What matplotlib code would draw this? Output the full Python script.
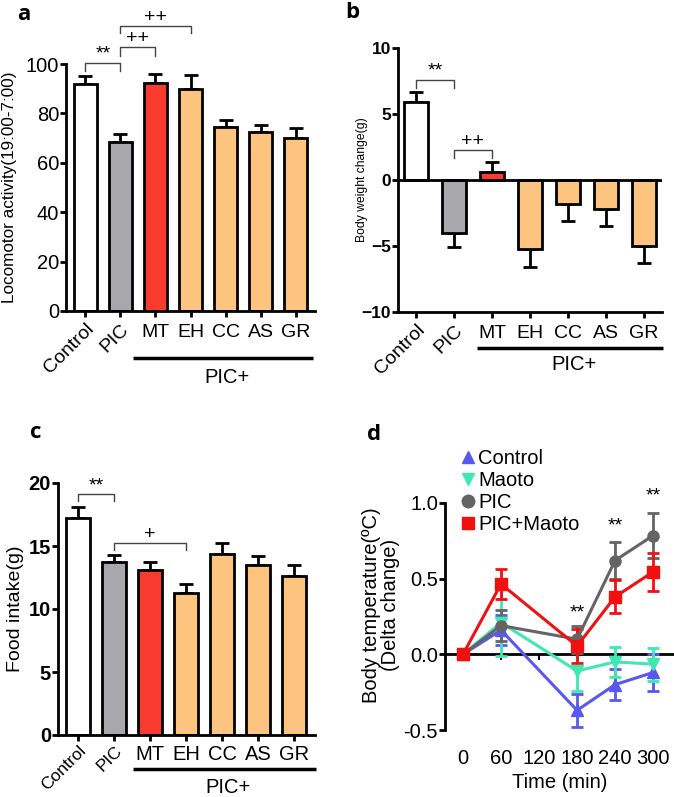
import matplotlib
matplotlib.use("Agg")
import matplotlib.pyplot as plt
from matplotlib.lines import Line2D
import numpy as np

plt.rcParams['font.family'] = ['Liberation Sans', 'DejaVu Sans']

# ---------------- data ----------------
groups = ["Control", "PIC", "MT", "EH", "CC", "AS", "GR"]
bar_colors = ["#ffffff", "#a7a7ac", "#fb3a2f", "#fdc47f", "#fdc47f", "#fdc47f", "#fdc47f"]

loco_mean = [92, 68.5, 92.5, 90, 74.5, 72.5, 70]
loco_err = [3, 3, 3.5, 5.5, 3, 3, 4]

bw_mean = [5.9, -4.0, 0.6, -5.2, -1.8, -2.2, -5.0]
bw_err = [0.8, 1.1, 0.8, 1.4, 1.3, 1.3, 1.3]

food_mean = [17.2, 13.7, 13.1, 11.3, 14.4, 13.5, 12.6]
food_err = [0.9, 0.6, 0.6, 0.7, 0.8, 0.7, 0.9]

time_min = [0, 60, 180, 240, 300]
temp_series = ["Control", "Maoto", "PIC", "PIC+Maoto"]
temp_control = [0.0, 0.16, -0.37, -0.20, -0.12]
temp_control_err = [0.02, 0.10, 0.11, 0.10, 0.12]
temp_maoto = [0.0, 0.21, -0.11, -0.05, -0.065]
temp_maoto_err = [0.02, 0.22, 0.13, 0.10, 0.11]
temp_pic = [0.0, 0.19, 0.10, 0.62, 0.785]
temp_pic_err = [0.02, 0.10, 0.09, 0.12, 0.15]
temp_picm = [0.0, 0.465, 0.055, 0.38, 0.545]
temp_picm_err = [0.02, 0.10, 0.11, 0.11, 0.125]
time_ticks = [0, 60, 120, 180, 240, 300]

W, H = 674, 797
fig = plt.figure(figsize=(6.74, 7.97), dpi=100)


def ax_px(left, top, right, bottom):
    return fig.add_axes([left / W, 1 - bottom / H, (right - left) / W, (bottom - top) / H])


def bar_panel(ax, mean, err, tick_bold, tick_size, cat_size=14, cat_pad=3):
    x = np.arange(len(groups))
    lo = [e if m < 0 else 0 for m, e in zip(mean, err)]
    hi = [e if m >= 0 else 0 for m, e in zip(mean, err)]
    ax.bar(x, mean, width=0.65, color=bar_colors, edgecolor="black", linewidth=2, zorder=2)
    ax.errorbar(x, mean, yerr=[lo, hi], fmt="none", ecolor="black", elinewidth=2,
                capsize=5, capthick=2, zorder=1)
    for s in ["top", "right"]:
        ax.spines[s].set_visible(False)
    for s in ["left", "bottom"]:
        ax.spines[s].set_linewidth(2)
    ax.set_xticks(x)
    ax.set_xticklabels(["Control", "PIC", "", "", "", "", ""], rotation=45, ha="right",
                       rotation_mode="anchor", fontsize=cat_size)
    ax.tick_params(axis="x", length=4, width=2, pad=cat_pad)
    ax.tick_params(axis="y", length=4, width=2, labelsize=tick_size, pad=1)
    if tick_bold:
        for t in ax.get_yticklabels():
            t.set_fontweight("bold")


def group_labels(ax, ylab, yline, ypic, xl0, xl1, fs=14):
    tr = ax.get_xaxis_transform()
    for i, g in enumerate(groups[2:], start=2):
        ax.text(i, ylab, g, transform=tr, ha="center", va="center", fontsize=fs, clip_on=False)
    ax.plot([xl0, xl1], [yline, yline], transform=tr, color="black", lw=2.5, clip_on=False,
            solid_capstyle="butt")
    ax.text((xl0 + xl1) / 2 + 0.1, ypic, "PIC+", transform=tr, ha="center", va="center",
            fontsize=14.5, clip_on=False)


def bracket(ax, x1, x2, ytop, yleg, text, fs=14):
    ax.plot([x1, x1, x2, x2], [yleg, ytop, ytop, yleg], color="#444444", lw=1, clip_on=False)
    ax.text((x1 + x2) / 2, ytop, text, ha="center", va="bottom", fontsize=fs, clip_on=False)


# ---------------- panel a ----------------
axa = ax_px(66, 64, 315, 311)
bar_panel(axa, loco_mean, loco_err, False, 14.5)
axa.set_ylim(0, 100)
axa.set_yticks([0, 20, 40, 60, 80, 100])
axa.set_xlim(-0.55, 6.55)
axa.text(-0.225, 0.5, "Locomotor activity(19:00-7:00)", transform=axa.transAxes, rotation=90,
         ha="center", va="center", fontsize=12.3)
group_labels(axa, -0.089, -0.19, -0.27, 1.37, 6.49)
bracket(axa, 0, 1, 100.5, 97.2, "**")
bracket(axa, 1, 2, 106.8, 103.3, "++")
bracket(axa, 1, 3, 115.5, 112.5, "++")

# ---------------- panel b ----------------
axb = ax_px(398, 48, 662, 312)
bar_panel(axb, bw_mean, bw_err, True, 12.5)
axb.set_ylim(-10, 10)
axb.set_yticks([-10, -5, 0, 5, 10])
axb.set_xlim(-0.47, 6.47)
axb.axhline(0, color="black", lw=2, zorder=3)
axb.text(-0.136, 0.5, "Body weight change(g)", transform=axb.transAxes, rotation=90,
         ha="center", va="center", fontsize=8.7)
group_labels(axb, -0.08, -0.136, -0.2, 1.6, 6.5)
bracket(axb, 0, 1, 7.6, 7.0, "**")
bracket(axb, 1, 2, 2.25, 1.65, "++")

# ---------------- panel c ----------------
axc = ax_px(58, 483, 315, 735)
bar_panel(axc, food_mean, food_err, True, 14.5, cat_size=12.5, cat_pad=1.5)
axc.set_ylim(0, 20)
axc.set_yticks([0, 5, 10, 15, 20])
axc.set_xlim(-0.56, 6.58)
axc.text(-0.167, 0.5, "Food intake(g)", transform=axc.transAxes, rotation=90,
         ha="center", va="center", fontsize=14)
group_labels(axc, -0.079, -0.135, -0.21, 1.53, 6.6, fs=14.5)
bracket(axc, 0, 1, 19.1, 18.6, "**")
bracket(axc, 1, 3, 15.2, 14.7, "+")

# ---------------- panel d ----------------
axd = ax_px(445, 503, 674, 730)
specs = [
    (temp_control, temp_control_err, "#5858f0", "^", "Control"),
    (temp_maoto, temp_maoto_err, "#3fe8b2", "v", "Maoto"),
    (temp_pic, temp_pic_err, "#646464", "o", "PIC"),
    (temp_picm, temp_picm_err, "#f01010", "s", "PIC+Maoto"),
]
handles = []
for vals, errs, col, mk, lab in specs:
    axd.errorbar(time_min, vals, yerr=errs, color=col, marker=mk, markersize=8, lw=2.2,
                 elinewidth=2, capsize=4, capthick=2, clip_on=False)
    handles.append(Line2D([], [], color=col, marker=mk, markersize=9, linestyle="none"))
axd.set_ylim(-0.5, 1.0)
axd.set_yticks([-0.5, 0.0, 0.5, 1.0])
axd.set_yticklabels(["-0.5", "0.0", "0.5", "1.0"])
axd.set_xlim(-28.4, 333)
axd.axhline(0, color="black", lw=2, zorder=0)
axd.plot(time_ticks, [0] * len(time_ticks), linestyle="none", marker=3, markersize=4,
         color="black", mew=1.5, zorder=0)
for s in ["top", "right", "bottom"]:
    axd.spines[s].set_visible(False)
axd.spines["left"].set_linewidth(2)
axd.set_xticks(time_ticks)
axd.tick_params(axis="x", length=0, labelsize=14.5, pad=14)
axd.tick_params(axis="y", length=4, width=2, labelsize=14.5, pad=1)
axd.set_xlabel("Time (min)", fontsize=14.5, labelpad=3)
axd.text(-0.28, 0.55, "Body temperature(ºC)\n(Delta change)", transform=axd.transAxes,
         rotation=90, ha="center", va="center", fontsize=14.5, linespacing=1.0)
for xt, yt in [(180, 0.22), (240, 0.79), (300, 0.99)]:
    axd.text(xt, yt, "**", ha="center", va="bottom", fontsize=14, clip_on=False)
axd.legend(handles, temp_series, loc="upper left", bbox_to_anchor=(0.03, 1.275), frameon=False,
           fontsize=14.5, handlelength=0.8, handletextpad=0.1, labelspacing=0.15,
           borderaxespad=0)

# panel letters
for lab, (px, py) in {"a": (17, 14), "b": (345, 13), "c": (30, 432), "d": (367, 434)}.items():
    fig.text(px / W, 1 - py / H, lab, fontsize=16, fontweight="bold", family="Open Sans",
             ha="left", va="center")

fig.savefig("out.png", dpi=100)
